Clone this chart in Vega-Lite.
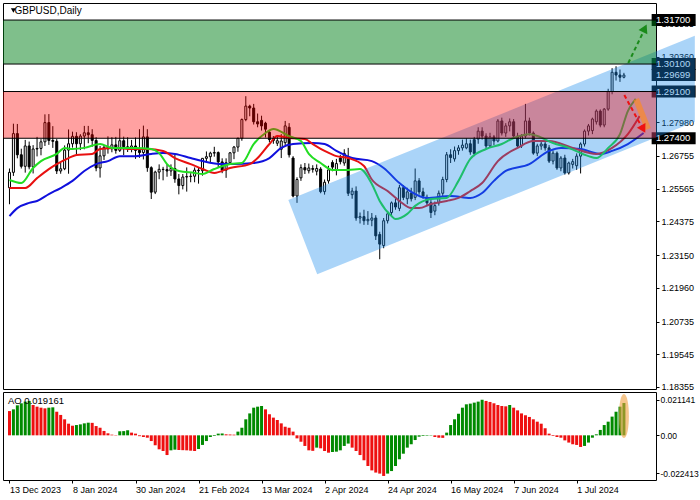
{
  "$schema": "https://vega.github.io/schema/vega-lite/v6.json",
  "padding": {"left": 2, "top": 2, "right": 0, "bottom": 0},
  "spacing": 3,
  "bounds": "flush",
  "background": "white",
  "config": {
    "view": {"stroke": "black", "strokeWidth": 1},
    "axis": {"labelFont": "Liberation Sans", "labelFontSize": 9, "labelColor": "black", "tickColor": "black", "tickSize": 3, "domain": false, "grid": false, "labelPadding": 2}
  },
  "datasets": {
    "ohlc": [
      {"t":0,"o":1.2560,"h":1.2630,"l":1.2500,"c":1.2616},
      {"t":1,"o":1.2616,"h":1.2793,"l":1.2603,"c":1.2757},
      {"t":2,"o":1.2757,"h":1.2792,"l":1.2667,"c":1.2680},
      {"t":3,"o":1.2680,"h":1.2702,"l":1.2630,"c":1.2638},
      {"t":4,"o":1.2638,"h":1.2734,"l":1.2615,"c":1.2712},
      {"t":5,"o":1.2712,"h":1.2728,"l":1.2627,"c":1.2636},
      {"t":6,"o":1.2636,"h":1.2715,"l":1.2612,"c":1.2701},
      {"t":7,"o":1.2701,"h":1.2745,"l":1.2674,"c":1.2703},
      {"t":8,"o":1.2703,"h":1.2737,"l":1.2678,"c":1.2727},
      {"t":9,"o":1.2727,"h":1.2827,"l":1.2712,"c":1.2797},
      {"t":10,"o":1.2797,"h":1.2828,"l":1.2716,"c":1.2732},
      {"t":11,"o":1.2732,"h":1.2784,"l":1.2705,"c":1.2729},
      {"t":12,"o":1.2729,"h":1.2737,"l":1.2610,"c":1.2621},
      {"t":13,"o":1.2621,"h":1.2652,"l":1.2611,"c":1.2629},
      {"t":14,"o":1.2629,"h":1.2714,"l":1.2624,"c":1.2697},
      {"t":15,"o":1.2697,"h":1.2772,"l":1.2611,"c":1.2720},
      {"t":16,"o":1.2720,"h":1.2764,"l":1.2706,"c":1.2747},
      {"t":17,"o":1.2747,"h":1.2762,"l":1.2676,"c":1.2720},
      {"t":18,"o":1.2720,"h":1.2755,"l":1.2697,"c":1.2748},
      {"t":19,"o":1.2748,"h":1.2785,"l":1.2700,"c":1.2760},
      {"t":20,"o":1.2760,"h":1.2785,"l":1.2722,"c":1.2753},
      {"t":21,"o":1.2753,"h":1.2773,"l":1.2709,"c":1.2732},
      {"t":22,"o":1.2732,"h":1.2744,"l":1.2620,"c":1.2632},
      {"t":23,"o":1.2632,"h":1.2712,"l":1.2597,"c":1.2676},
      {"t":24,"o":1.2676,"h":1.2715,"l":1.2661,"c":1.2707},
      {"t":25,"o":1.2707,"h":1.2747,"l":1.2684,"c":1.2702},
      {"t":26,"o":1.2702,"h":1.2744,"l":1.2689,"c":1.2716},
      {"t":27,"o":1.2716,"h":1.2745,"l":1.2684,"c":1.2696},
      {"t":28,"o":1.2696,"h":1.2775,"l":1.2690,"c":1.2731},
      {"t":29,"o":1.2731,"h":1.2746,"l":1.2679,"c":1.2709},
      {"t":30,"o":1.2709,"h":1.2744,"l":1.2690,"c":1.2704},
      {"t":31,"o":1.2704,"h":1.2734,"l":1.2689,"c":1.2712},
      {"t":32,"o":1.2712,"h":1.2743,"l":1.2665,"c":1.2696},
      {"t":33,"o":1.2696,"h":1.2773,"l":1.2669,"c":1.2688},
      {"t":34,"o":1.2688,"h":1.2786,"l":1.2663,"c":1.2745},
      {"t":35,"o":1.2745,"h":1.2773,"l":1.2618,"c":1.2633},
      {"t":36,"o":1.2633,"h":1.2638,"l":1.2519,"c":1.2544},
      {"t":37,"o":1.2544,"h":1.2622,"l":1.2537,"c":1.2617},
      {"t":38,"o":1.2617,"h":1.2645,"l":1.2591,"c":1.2627},
      {"t":39,"o":1.2627,"h":1.2636,"l":1.2587,"c":1.2626},
      {"t":40,"o":1.2626,"h":1.2646,"l":1.2600,"c":1.2621},
      {"t":41,"o":1.2621,"h":1.2645,"l":1.2603,"c":1.2630},
      {"t":42,"o":1.2630,"h":1.2680,"l":1.2578,"c":1.2592},
      {"t":43,"o":1.2592,"h":1.2610,"l":1.2536,"c":1.2568},
      {"t":44,"o":1.2568,"h":1.2610,"l":1.2554,"c":1.2599},
      {"t":45,"o":1.2599,"h":1.2634,"l":1.2546,"c":1.2601},
      {"t":46,"o":1.2601,"h":1.2613,"l":1.2580,"c":1.2602},
      {"t":47,"o":1.2602,"h":1.2634,"l":1.2580,"c":1.2624},
      {"t":48,"o":1.2624,"h":1.2635,"l":1.2575,"c":1.2622},
      {"t":49,"o":1.2622,"h":1.2668,"l":1.2604,"c":1.2667},
      {"t":50,"o":1.2667,"h":1.2692,"l":1.2652,"c":1.2673},
      {"t":51,"o":1.2673,"h":1.2691,"l":1.2650,"c":1.2686},
      {"t":52,"o":1.2686,"h":1.2709,"l":1.2673,"c":1.2688},
      {"t":53,"o":1.2688,"h":1.2692,"l":1.2633,"c":1.2654},
      {"t":54,"o":1.2654,"h":1.2667,"l":1.2613,"c":1.2624},
      {"t":55,"o":1.2624,"h":1.2667,"l":1.2596,"c":1.2651},
      {"t":56,"o":1.2651,"h":1.2690,"l":1.2646,"c":1.2687},
      {"t":57,"o":1.2687,"h":1.2712,"l":1.2664,"c":1.2708},
      {"t":58,"o":1.2708,"h":1.2742,"l":1.2691,"c":1.2740},
      {"t":59,"o":1.2740,"h":1.2812,"l":1.2731,"c":1.2808},
      {"t":60,"o":1.2808,"h":1.2893,"l":1.2802,"c":1.2857},
      {"t":61,"o":1.2857,"h":1.2862,"l":1.2820,"c":1.2850},
      {"t":62,"o":1.2850,"h":1.2865,"l":1.2790,"c":1.2800},
      {"t":63,"o":1.2800,"h":1.2830,"l":1.2780,"c":1.2792},
      {"t":64,"o":1.2805,"h":1.2822,"l":1.2768,"c":1.2785},
      {"t":65,"o":1.2795,"h":1.2800,"l":1.2743,"c":1.2773},
      {"t":66,"o":1.2762,"h":1.2768,"l":1.2725,"c":1.2735},
      {"t":67,"o":1.2738,"h":1.2748,"l":1.2720,"c":1.2732},
      {"t":68,"o":1.2722,"h":1.2745,"l":1.2712,"c":1.2731},
      {"t":69,"o":1.2700,"h":1.2755,"l":1.2668,"c":1.2730},
      {"t":70,"o":1.2724,"h":1.2803,"l":1.2715,"c":1.2785},
      {"t":71,"o":1.2780,"h":1.2795,"l":1.2670,"c":1.2680},
      {"t":72,"o":1.2668,"h":1.2675,"l":1.2525,"c":1.2530},
      {"t":73,"o":1.2530,"h":1.2598,"l":1.2505,"c":1.2590},
      {"t":74,"o":1.2596,"h":1.2645,"l":1.2585,"c":1.2633},
      {"t":75,"o":1.2633,"h":1.2650,"l":1.2610,"c":1.2625},
      {"t":76,"o":1.2622,"h":1.2648,"l":1.2612,"c":1.2632},
      {"t":77,"o":1.2630,"h":1.2642,"l":1.2615,"c":1.2627},
      {"t":78,"o":1.2620,"h":1.2645,"l":1.2605,"c":1.2630},
      {"t":79,"o":1.2628,"h":1.2635,"l":1.2540,"c":1.2546},
      {"t":80,"o":1.2546,"h":1.2590,"l":1.2535,"c":1.2580},
      {"t":81,"o":1.2585,"h":1.2640,"l":1.2575,"c":1.2625},
      {"t":82,"o":1.2652,"h":1.2660,"l":1.2620,"c":1.2635},
      {"t":83,"o":1.2625,"h":1.2665,"l":1.2605,"c":1.2648},
      {"t":84,"o":1.2668,"h":1.2680,"l":1.2645,"c":1.2655},
      {"t":85,"o":1.2650,"h":1.2700,"l":1.2640,"c":1.2685},
      {"t":86,"o":1.2665,"h":1.2705,"l":1.2530,"c":1.2540},
      {"t":87,"o":1.2535,"h":1.2560,"l":1.2520,"c":1.2548},
      {"t":88,"o":1.2548,"h":1.2565,"l":1.2440,"c":1.2450},
      {"t":89,"o":1.2450,"h":1.2470,"l":1.2430,"c":1.2455},
      {"t":90,"o":1.2455,"h":1.2480,"l":1.2425,"c":1.2440},
      {"t":91,"o":1.2440,"h":1.2475,"l":1.2425,"c":1.2445},
      {"t":92,"o":1.2442,"h":1.2468,"l":1.2420,"c":1.2450},
      {"t":93,"o":1.2450,"h":1.2460,"l":1.2370,"c":1.2385},
      {"t":94,"o":1.2390,"h":1.2400,"l":1.2300,"c":1.2355},
      {"t":95,"o":1.2350,"h":1.2450,"l":1.2340,"c":1.2440},
      {"t":96,"o":1.2440,"h":1.2475,"l":1.2430,"c":1.2465},
      {"t":97,"o":1.2470,"h":1.2510,"l":1.2455,"c":1.2505},
      {"t":98,"o":1.2505,"h":1.2520,"l":1.2480,"c":1.2490},
      {"t":99,"o":1.2485,"h":1.2570,"l":1.2475,"c":1.2560},
      {"t":100,"o":1.2560,"h":1.2570,"l":1.2515,"c":1.2525},
      {"t":101,"o":1.2520,"h":1.2560,"l":1.2500,"c":1.2545},
      {"t":102,"o":1.2540,"h":1.2560,"l":1.2510,"c":1.2520},
      {"t":103,"o":1.2525,"h":1.2630,"l":1.2515,"c":1.2585},
      {"t":104,"o":1.2585,"h":1.2595,"l":1.2535,"c":1.2545},
      {"t":105,"o":1.2545,"h":1.2560,"l":1.2520,"c":1.2530},
      {"t":106,"o":1.2525,"h":1.2535,"l":1.2495,"c":1.2505},
      {"t":107,"o":1.2505,"h":1.2515,"l":1.2450,"c":1.2470},
      {"t":108,"o":1.2475,"h":1.2510,"l":1.2460,"c":1.2495},
      {"t":109,"o":1.2505,"h":1.2550,"l":1.2495,"c":1.2540},
      {"t":110,"o":1.2540,"h":1.2600,"l":1.2530,"c":1.2590},
      {"t":111,"o":1.2590,"h":1.2690,"l":1.2580,"c":1.2680},
      {"t":112,"o":1.2680,"h":1.2700,"l":1.2650,"c":1.2670},
      {"t":113,"o":1.2665,"h":1.2710,"l":1.2655,"c":1.2695},
      {"t":114,"o":1.2695,"h":1.2715,"l":1.2680,"c":1.2705},
      {"t":115,"o":1.2705,"h":1.2735,"l":1.2695,"c":1.2715},
      {"t":116,"o":1.2705,"h":1.2740,"l":1.2700,"c":1.2720},
      {"t":117,"o":1.2720,"h":1.2735,"l":1.2680,"c":1.2690},
      {"t":118,"o":1.2735,"h":1.2745,"l":1.2675,"c":1.2685},
      {"t":119,"o":1.2737,"h":1.2780,"l":1.2720,"c":1.2766},
      {"t":120,"o":1.2766,"h":1.2780,"l":1.2735,"c":1.2748},
      {"t":121,"o":1.2748,"h":1.2758,"l":1.2700,"c":1.2712},
      {"t":122,"o":1.2712,"h":1.2760,"l":1.2705,"c":1.2745},
      {"t":123,"o":1.2745,"h":1.2752,"l":1.2715,"c":1.2730},
      {"t":124,"o":1.2730,"h":1.2810,"l":1.2725,"c":1.2803},
      {"t":125,"o":1.2803,"h":1.2815,"l":1.2750,"c":1.2759},
      {"t":126,"o":1.2759,"h":1.2795,"l":1.2745,"c":1.2785},
      {"t":127,"o":1.2785,"h":1.2812,"l":1.2765,"c":1.2800},
      {"t":128,"o":1.2800,"h":1.2810,"l":1.2745,"c":1.2748},
      {"t":129,"o":1.2748,"h":1.2760,"l":1.2705,"c":1.2712},
      {"t":130,"o":1.2712,"h":1.2755,"l":1.2705,"c":1.2748},
      {"t":131,"o":1.2748,"h":1.2865,"l":1.2740,"c":1.2803},
      {"t":132,"o":1.2803,"h":1.2815,"l":1.2750,"c":1.2759},
      {"t":133,"o":1.2759,"h":1.2765,"l":1.2680,"c":1.2686},
      {"t":134,"o":1.2686,"h":1.2720,"l":1.2675,"c":1.2712},
      {"t":135,"o":1.2712,"h":1.2730,"l":1.2698,"c":1.2719},
      {"t":136,"o":1.2719,"h":1.2728,"l":1.2695,"c":1.2705},
      {"t":137,"o":1.2705,"h":1.2715,"l":1.2650,"c":1.2657},
      {"t":138,"o":1.2657,"h":1.2695,"l":1.2645,"c":1.2686},
      {"t":139,"o":1.2686,"h":1.2692,"l":1.2625,"c":1.2632},
      {"t":140,"o":1.2632,"h":1.2675,"l":1.2620,"c":1.2668},
      {"t":141,"o":1.2668,"h":1.2680,"l":1.2608,"c":1.2614},
      {"t":142,"o":1.2614,"h":1.2655,"l":1.2608,"c":1.2650},
      {"t":143,"o":1.2645,"h":1.2665,"l":1.2630,"c":1.2655},
      {"t":144,"o":1.2640,"h":1.2685,"l":1.2625,"c":1.2675},
      {"t":145,"o":1.2675,"h":1.2725,"l":1.2612,"c":1.2719},
      {"t":146,"o":1.2719,"h":1.2772,"l":1.2710,"c":1.2766},
      {"t":147,"o":1.2766,"h":1.2792,"l":1.2750,"c":1.2785},
      {"t":148,"o":1.2768,"h":1.2815,"l":1.2755,"c":1.2810},
      {"t":149,"o":1.2800,"h":1.2845,"l":1.2790,"c":1.2839},
      {"t":150,"o":1.2839,"h":1.2845,"l":1.2780,"c":1.2788},
      {"t":151,"o":1.2788,"h":1.2850,"l":1.2780,"c":1.2846},
      {"t":152,"o":1.2846,"h":1.2920,"l":1.2840,"c":1.2910},
      {"t":153,"o":1.2910,"h":1.2995,"l":1.2900,"c":1.2980},
      {"t":154,"o":1.2980,"h":1.3002,"l":1.2950,"c":1.2970},
      {"t":155,"o":1.2970,"h":1.2990,"l":1.2945,"c":1.2962},
      {"t":156,"o":1.2962,"h":1.2978,"l":1.2958,"c":1.29699}
    ],
    "ma": [
      {"s":"lips","t":0,"v":1.2588},{"s":"lips","t":3,"v":1.2577},{"s":"lips","t":6,"v":1.2632},{"s":"lips","t":8,"v":1.2657},{"s":"lips","t":12,"v":1.2683},{"s":"lips","t":14,"v":1.2705},{"s":"lips","t":16,"v":1.2701},{"s":"lips","t":19,"v":1.2705},{"s":"lips","t":23,"v":1.2719},{"s":"lips","t":26,"v":1.2705},{"s":"lips","t":32,"v":1.2705},{"s":"lips","t":36,"v":1.2701},{"s":"lips","t":38,"v":1.2686},{"s":"lips","t":40,"v":1.2646},{"s":"lips","t":43,"v":1.2621},{"s":"lips","t":47,"v":1.2614},{"s":"lips","t":49,"v":1.2610},{"s":"lips","t":52,"v":1.2628},{"s":"lips","t":56,"v":1.2646},{"s":"lips","t":59,"v":1.2650},{"s":"lips","t":62,"v":1.2719},{"s":"lips","t":65,"v":1.2759},{"s":"lips","t":67,"v":1.2774},{"s":"lips","t":71,"v":1.2748},{"s":"lips","t":74,"v":1.2730},{"s":"lips","t":76,"v":1.2683},{"s":"lips","t":79,"v":1.2650},{"s":"lips","t":82,"v":1.2625},{"s":"lips","t":86,"v":1.2625},{"s":"lips","t":89,"v":1.2628},{"s":"lips","t":92,"v":1.2574},{"s":"lips","t":94,"v":1.2512},{"s":"lips","t":97,"v":1.2457},{"s":"lips","t":98,"v":1.2446},{"s":"lips","t":101,"v":1.2465},{"s":"lips","t":103,"v":1.2494},{"s":"lips","t":107,"v":1.2519},{"s":"lips","t":111,"v":1.2523},{"s":"lips","t":114,"v":1.2585},{"s":"lips","t":117,"v":1.2665},{"s":"lips","t":121,"v":1.2701},{"s":"lips","t":125,"v":1.2719},{"s":"lips","t":128,"v":1.2741},{"s":"lips","t":132,"v":1.2755},{"s":"lips","t":134,"v":1.2748},{"s":"lips","t":138,"v":1.2723},{"s":"lips","t":142,"v":1.2705},{"s":"lips","t":147,"v":1.2675},{"s":"lips","t":149,"v":1.2668},{"s":"lips","t":152,"v":1.2705},{"s":"lips","t":155,"v":1.2755},{"s":"lips","t":157,"v":1.2839},{"s":"lips","t":159,"v":1.2883},
      {"s":"teeth","t":0,"v":1.2559},{"s":"teeth","t":4,"v":1.2559},{"s":"teeth","t":7,"v":1.2595},{"s":"teeth","t":10,"v":1.2628},{"s":"teeth","t":12,"v":1.2646},{"s":"teeth","t":15,"v":1.2668},{"s":"teeth","t":17,"v":1.2679},{"s":"teeth","t":21,"v":1.2683},{"s":"teeth","t":23,"v":1.2701},{"s":"teeth","t":27,"v":1.2705},{"s":"teeth","t":31,"v":1.2701},{"s":"teeth","t":35,"v":1.2701},{"s":"teeth","t":39,"v":1.2694},{"s":"teeth","t":42,"v":1.2668},{"s":"teeth","t":46,"v":1.2646},{"s":"teeth","t":49,"v":1.2628},{"s":"teeth","t":52,"v":1.2614},{"s":"teeth","t":56,"v":1.2632},{"s":"teeth","t":61,"v":1.2646},{"s":"teeth","t":63,"v":1.2668},{"s":"teeth","t":66,"v":1.2719},{"s":"teeth","t":68,"v":1.2748},{"s":"teeth","t":71,"v":1.2741},{"s":"teeth","t":75,"v":1.2737},{"s":"teeth","t":77,"v":1.2719},{"s":"teeth","t":80,"v":1.2694},{"s":"teeth","t":83,"v":1.2675},{"s":"teeth","t":86,"v":1.2668},{"s":"teeth","t":90,"v":1.2639},{"s":"teeth","t":92,"v":1.2590},{"s":"teeth","t":96,"v":1.2548},{"s":"teeth","t":99,"v":1.2512},{"s":"teeth","t":102,"v":1.2486},{"s":"teeth","t":104,"v":1.2486},{"s":"teeth","t":107,"v":1.2501},{"s":"teeth","t":111,"v":1.2512},{"s":"teeth","t":114,"v":1.2523},{"s":"teeth","t":117,"v":1.2548},{"s":"teeth","t":120,"v":1.2577},{"s":"teeth","t":124,"v":1.2657},{"s":"teeth","t":129,"v":1.2705},{"s":"teeth","t":133,"v":1.2730},{"s":"teeth","t":137,"v":1.2730},{"s":"teeth","t":143,"v":1.2705},{"s":"teeth","t":149,"v":1.2683},{"s":"teeth","t":153,"v":1.2705},{"s":"teeth","t":157,"v":1.2755},{"s":"teeth","t":160,"v":1.2821},
      {"s":"jaw","t":0,"v":1.2457},{"s":"jaw","t":2,"v":1.2486},{"s":"jaw","t":5,"v":1.2505},{"s":"jaw","t":7,"v":1.2512},{"s":"jaw","t":10,"v":1.2537},{"s":"jaw","t":13,"v":1.2559},{"s":"jaw","t":16,"v":1.2585},{"s":"jaw","t":19,"v":1.2621},{"s":"jaw","t":22,"v":1.2646},{"s":"jaw","t":25,"v":1.2657},{"s":"jaw","t":28,"v":1.2675},{"s":"jaw","t":32,"v":1.2675},{"s":"jaw","t":36,"v":1.2683},{"s":"jaw","t":39,"v":1.2686},{"s":"jaw","t":42,"v":1.2683},{"s":"jaw","t":46,"v":1.2668},{"s":"jaw","t":49,"v":1.2657},{"s":"jaw","t":54,"v":1.2646},{"s":"jaw","t":57,"v":1.2646},{"s":"jaw","t":62,"v":1.2650},{"s":"jaw","t":66,"v":1.2668},{"s":"jaw","t":69,"v":1.2705},{"s":"jaw","t":72,"v":1.2719},{"s":"jaw","t":77,"v":1.2723},{"s":"jaw","t":80,"v":1.2719},{"s":"jaw","t":83,"v":1.2694},{"s":"jaw","t":87,"v":1.2668},{"s":"jaw","t":92,"v":1.2657},{"s":"jaw","t":95,"v":1.2632},{"s":"jaw","t":99,"v":1.2577},{"s":"jaw","t":102,"v":1.2545},{"s":"jaw","t":106,"v":1.2523},{"s":"jaw","t":112,"v":1.2530},{"s":"jaw","t":117,"v":1.2523},{"s":"jaw","t":120,"v":1.2541},{"s":"jaw","t":123,"v":1.2585},{"s":"jaw","t":126,"v":1.2621},{"s":"jaw","t":132,"v":1.2646},{"s":"jaw","t":137,"v":1.2694},{"s":"jaw","t":140,"v":1.2705},{"s":"jaw","t":145,"v":1.2701},{"s":"jaw","t":150,"v":1.2683},{"s":"jaw","t":153,"v":1.2694},{"s":"jaw","t":157,"v":1.2719},{"s":"jaw","t":161,"v":1.2759}
    ],
    "ao": [
      {"t":0,"v":0.0144,"d":"d"},{"t":1,"v":0.0154,"d":"u"},{"t":2,"v":0.0178,"d":"u"},{"t":3,"v":0.0190,"d":"u"},{"t":4,"v":0.0200,"d":"u"},{"t":5,"v":0.0204,"d":"u"},{"t":6,"v":0.0180,"d":"d"},{"t":7,"v":0.0170,"d":"d"},{"t":8,"v":0.0164,"d":"d"},{"t":9,"v":0.0160,"d":"d"},
      {"t":10,"v":0.0164,"d":"u"},{"t":11,"v":0.0166,"d":"u"},{"t":12,"v":0.0140,"d":"d"},{"t":13,"v":0.0121,"d":"d"},{"t":14,"v":0.0095,"d":"d"},{"t":15,"v":0.0069,"d":"d"},{"t":16,"v":0.0057,"d":"d"},{"t":17,"v":0.0061,"d":"u"},{"t":18,"v":0.0065,"d":"u"},{"t":19,"v":0.0071,"d":"u"},
      {"t":20,"v":0.0075,"d":"u"},{"t":21,"v":0.0074,"d":"d"},{"t":22,"v":0.0055,"d":"d"},{"t":23,"v":0.0045,"d":"d"},{"t":24,"v":0.0026,"d":"d"},{"t":25,"v":0.0012,"d":"d"},{"t":26,"v":0.0004,"d":"d"},{"t":27,"v":-0.0002,"d":"d"},{"t":28,"v":0.0024,"d":"u"},{"t":29,"v":0.0025,"d":"u"},
      {"t":30,"v":0.0030,"d":"u"},{"t":31,"v":0.0016,"d":"d"},{"t":32,"v":0.0010,"d":"d"},{"t":33,"v":-0.0005,"d":"d"},{"t":34,"v":-0.0010,"d":"d"},{"t":35,"v":-0.0014,"d":"d"},{"t":36,"v":-0.0034,"d":"d"},{"t":37,"v":-0.0059,"d":"d"},{"t":38,"v":-0.0083,"d":"d"},{"t":39,"v":-0.0093,"d":"d"},
      {"t":40,"v":-0.0117,"d":"d"},{"t":41,"v":-0.0089,"d":"u"},{"t":42,"v":-0.0085,"d":"u"},{"t":43,"v":-0.0087,"d":"d"},{"t":44,"v":-0.0088,"d":"d"},{"t":45,"v":-0.0089,"d":"d"},{"t":46,"v":-0.0091,"d":"d"},{"t":47,"v":-0.0093,"d":"d"},{"t":48,"v":-0.0081,"d":"u"},{"t":49,"v":-0.0057,"d":"u"},
      {"t":50,"v":-0.0034,"d":"u"},{"t":51,"v":-0.0010,"d":"u"},{"t":52,"v":-0.0004,"d":"u"},{"t":53,"v":0.0010,"d":"u"},{"t":54,"v":0.0011,"d":"u"},{"t":55,"v":0.0006,"d":"d"},{"t":56,"v":0.0005,"d":"d"},{"t":57,"v":0.0004,"d":"d"},{"t":58,"v":0.0022,"d":"u"},{"t":59,"v":0.0045,"d":"u"},
      {"t":60,"v":0.0095,"d":"u"},{"t":61,"v":0.0130,"d":"u"},{"t":62,"v":0.0164,"d":"u"},{"t":63,"v":0.0170,"d":"u"},{"t":64,"v":0.0174,"d":"u"},{"t":65,"v":0.0154,"d":"d"},{"t":66,"v":0.0125,"d":"d"},{"t":67,"v":0.0105,"d":"d"},{"t":68,"v":0.0091,"d":"d"},{"t":69,"v":0.0071,"d":"d"},
      {"t":70,"v":0.0051,"d":"d"},{"t":71,"v":0.0045,"d":"d"},{"t":72,"v":0.0022,"d":"d"},{"t":73,"v":-0.0018,"d":"d"},{"t":74,"v":-0.0038,"d":"d"},{"t":75,"v":-0.0063,"d":"d"},{"t":76,"v":-0.0089,"d":"d"},{"t":77,"v":-0.0092,"d":"d"},{"t":78,"v":-0.0073,"d":"u"},{"t":79,"v":-0.0077,"d":"d"},
      {"t":80,"v":-0.0093,"d":"d"},{"t":81,"v":-0.0103,"d":"d"},{"t":82,"v":-0.0099,"d":"u"},{"t":83,"v":-0.0097,"d":"u"},{"t":84,"v":-0.0089,"d":"u"},{"t":85,"v":-0.0063,"d":"u"},{"t":86,"v":-0.0049,"d":"u"},{"t":87,"v":-0.0073,"d":"d"},{"t":88,"v":-0.0093,"d":"d"},{"t":89,"v":-0.0117,"d":"d"},
      {"t":90,"v":-0.0148,"d":"d"},{"t":91,"v":-0.0182,"d":"d"},{"t":92,"v":-0.0208,"d":"d"},{"t":93,"v":-0.0221,"d":"d"},{"t":94,"v":-0.0227,"d":"d"},{"t":95,"v":-0.0241,"d":"d"},{"t":96,"v":-0.0227,"d":"u"},{"t":97,"v":-0.0212,"d":"u"},{"t":98,"v":-0.0182,"d":"u"},{"t":99,"v":-0.0142,"d":"u"},
      {"t":100,"v":-0.0109,"d":"u"},{"t":101,"v":-0.0073,"d":"u"},{"t":102,"v":-0.0053,"d":"u"},{"t":103,"v":-0.0028,"d":"u"},{"t":104,"v":-0.0008,"d":"u"},{"t":105,"v":-0.0004,"d":"u"},{"t":106,"v":-0.0003,"d":"u"},{"t":107,"v":-0.0002,"d":"u"},{"t":108,"v":-0.0010,"d":"d"},{"t":109,"v":-0.0014,"d":"d"},
      {"t":110,"v":-0.0015,"d":"d"},{"t":111,"v":0.0016,"d":"u"},{"t":112,"v":0.0061,"d":"u"},{"t":113,"v":0.0095,"d":"u"},{"t":114,"v":0.0128,"d":"u"},{"t":115,"v":0.0164,"d":"u"},{"t":116,"v":0.0184,"d":"u"},{"t":117,"v":0.0188,"d":"u"},{"t":118,"v":0.0194,"d":"u"},{"t":119,"v":0.0200,"d":"u"},
      {"t":120,"v":0.0211,"d":"u"},{"t":121,"v":0.0204,"d":"d"},{"t":122,"v":0.0198,"d":"d"},{"t":123,"v":0.0190,"d":"d"},{"t":124,"v":0.0180,"d":"d"},{"t":125,"v":0.0174,"d":"d"},{"t":126,"v":0.0172,"d":"d"},{"t":127,"v":0.0180,"d":"u"},{"t":128,"v":0.0164,"d":"d"},{"t":129,"v":0.0148,"d":"d"},
      {"t":130,"v":0.0130,"d":"d"},{"t":131,"v":0.0119,"d":"d"},{"t":132,"v":0.0109,"d":"d"},{"t":133,"v":0.0095,"d":"d"},{"t":134,"v":0.0081,"d":"d"},{"t":135,"v":0.0069,"d":"d"},{"t":136,"v":0.0042,"d":"d"},{"t":137,"v":0.0010,"d":"d"},{"t":138,"v":-0.0004,"d":"d"},{"t":139,"v":-0.0010,"d":"d"},
      {"t":140,"v":-0.0014,"d":"d"},{"t":141,"v":-0.0030,"d":"d"},{"t":142,"v":-0.0043,"d":"d"},{"t":143,"v":-0.0053,"d":"d"},{"t":144,"v":-0.0057,"d":"d"},{"t":145,"v":-0.0069,"d":"d"},{"t":146,"v":-0.0063,"d":"u"},{"t":147,"v":-0.0043,"d":"u"},{"t":148,"v":-0.0014,"d":"u"},{"t":149,"v":0.0006,"d":"u"},
      {"t":150,"v":0.0032,"d":"u"},{"t":151,"v":0.0061,"d":"u"},{"t":152,"v":0.0081,"d":"u"},{"t":153,"v":0.0111,"d":"u"},{"t":154,"v":0.0140,"d":"u"},{"t":155,"v":0.0170,"d":"u"},{"t":156,"v":0.019161,"d":"u"}
    ],
    "zones": [{"z":"buy","lo":1.301,"hi":1.317},{"z":"sell","lo":1.274,"hi":1.291}],
    "zlines": [{"p":1.317},{"p":1.301},{"p":1.291},{"p":1.274}],
    "channel": [{"t":70.8,"hi":1.25154,"lo":1.25154},{"t":78.125,"hi":1.25578,"lo":1.22453},{"t":174.0,"hi":1.31129,"lo":1.28004}],
    "boxes": [{"p":1.317,"lbl":"1.31700"},{"p":1.301,"lbl":"1.30100"},{"p":1.29699,"lbl":"1.29699"},{"p":1.291,"lbl":"1.29100"},{"p":1.274,"lbl":"1.27400"}],
    "arrows": [
      {"a":"up","t":157.1,"p":1.30136},{"a":"up","t":160.9,"p":1.31263},
      {"a":"down","t":156.1,"p":1.28972},{"a":"down","t":160.4,"p":1.27845},
      {"a":"alt","t":159.1,"p":1.28827},{"a":"alt","t":162.1,"p":1.27736}
    ],
    "heads": [{"a":"up","t":161.3,"p":1.31400},{"a":"down","t":160.9,"p":1.27736}]
  },
  "resolve": {"scale": {"x": "independent", "y": "independent", "color": "independent"}},
  "vconcat": [
    {
      "width": 653,
      "height": 386,
      "title": {"text": "GBPUSD,Daily", "anchor": "start", "offset": -13, "dx": 12, "font": "Liberation Sans", "fontSize": 10, "fontWeight": "normal", "color": "black"},
      "layer": [
        {
          "data": {"name": "ohlc"},
          "mark": {"type": "rule", "color": "black", "strokeWidth": 1},
          "encoding": {
            "x": {"field": "t", "type": "quantitative", "scale": {"domain": [-0.375, 162.875], "nice": false, "zero": false}, "axis": null},
            "y": {"field": "l", "type": "quantitative", "scale": {"domain": [1.1828, 1.3232], "nice": false, "zero": false},
                  "axis": {"orient": "right", "title": null, "values": [1.31585, 1.3036, 1.2798, 1.26755, 1.25565, 1.24375, 1.2315, 1.2196, 1.20735, 1.19545, 1.18355], "format": ".5f", "zindex": 0}},
            "y2": {"field": "h"}
          }
        },
        {
          "data": {"name": "ohlc"},
          "mark": {"type": "bar", "size": 2, "strokeWidth": 1, "stroke": "black"},
          "encoding": {
            "x": {"field": "t", "type": "quantitative", "axis": null},
            "y": {"field": "o", "type": "quantitative", "axis": {"orient": "right", "title": null, "values": [1.31585, 1.3036, 1.2798, 1.26755, 1.25565, 1.24375, 1.2315, 1.2196, 1.20735, 1.19545, 1.18355], "format": ".5f", "zindex": 0}},
            "y2": {"field": "c"},
            "fill": {"condition": {"test": "datum.c >= datum.o", "value": "white"}, "value": "black"}
          }
        },
        {
          "data": {"name": "ma"},
          "transform": [{"filter": "datum.s == 'jaw'"}],
          "mark": {"type": "line", "strokeWidth": 2, "interpolate": "monotone", "color": "#1010dd"},
          "encoding": {
            "x": {"field": "t", "type": "quantitative", "axis": null},
            "y": {"field": "v", "type": "quantitative", "axis": {"orient": "right", "title": null, "values": [1.31585, 1.3036, 1.2798, 1.26755, 1.25565, 1.24375, 1.2315, 1.2196, 1.20735, 1.19545, 1.18355], "format": ".5f", "zindex": 0}}
          }
        },
        {
          "data": {"name": "ma"},
          "transform": [{"filter": "datum.s == 'teeth'"}],
          "mark": {"type": "line", "strokeWidth": 2, "interpolate": "monotone", "color": "#e81010"},
          "encoding": {
            "x": {"field": "t", "type": "quantitative", "axis": null},
            "y": {"field": "v", "type": "quantitative", "axis": {"orient": "right", "title": null, "values": [1.31585, 1.3036, 1.2798, 1.26755, 1.25565, 1.24375, 1.2315, 1.2196, 1.20735, 1.19545, 1.18355], "format": ".5f", "zindex": 0}}
          }
        },
        {
          "data": {"name": "ma"},
          "transform": [{"filter": "datum.s == 'lips'"}],
          "mark": {"type": "line", "strokeWidth": 2, "interpolate": "monotone", "color": "#22dd22"},
          "encoding": {
            "x": {"field": "t", "type": "quantitative", "axis": null},
            "y": {"field": "v", "type": "quantitative", "axis": {"orient": "right", "title": null, "values": [1.31585, 1.3036, 1.2798, 1.26755, 1.25565, 1.24375, 1.2315, 1.2196, 1.20735, 1.19545, 1.18355], "format": ".5f", "zindex": 0}}
          }
        },
        {
          "data": {"name": "boxes"},
          "mark": {"type": "point", "filled": true, "opacity": 1, "color": "black", "size": 1936, "shape": "M-1,-0.273L1,-0.273L1,0.273L-1,0.273Z"},
          "encoding": {
            "x": {"datum": 168.625, "type": "quantitative", "axis": null},
            "y": {"field": "p", "type": "quantitative", "axis": {"orient": "right", "title": null, "values": [1.31585, 1.3036, 1.2798, 1.26755, 1.25565, 1.24375, 1.2315, 1.2196, 1.20735, 1.19545, 1.18355], "format": ".5f", "zindex": 0}}
          }
        },
        {
          "data": {"name": "boxes"},
          "mark": {"type": "text", "align": "left", "baseline": "middle", "color": "white", "font": "Liberation Sans", "fontSize": 9.5},
          "encoding": {
            "x": {"datum": 164.125, "type": "quantitative", "axis": null},
            "y": {"field": "p", "type": "quantitative", "axis": {"orient": "right", "title": null, "values": [1.31585, 1.3036, 1.2798, 1.26755, 1.25565, 1.24375, 1.2315, 1.2196, 1.20735, 1.19545, 1.18355], "format": ".5f", "zindex": 0}},
            "text": {"field": "lbl"}
          }
        },
        {
          "data": {"name": "channel"},
          "mark": {"type": "area", "color": "#198bec", "opacity": 0.37},
          "encoding": {
            "x": {"field": "t", "type": "quantitative", "axis": null},
            "y": {"field": "hi", "type": "quantitative", "axis": {"orient": "right", "title": null, "values": [1.31585, 1.3036, 1.2798, 1.26755, 1.25565, 1.24375, 1.2315, 1.2196, 1.20735, 1.19545, 1.18355], "format": ".5f", "zindex": 0}},
            "y2": {"field": "lo"}
          }
        },
        {
          "data": {"name": "zones"},
          "transform": [{"filter": "datum.z == 'sell'"}],
          "mark": {"type": "rect", "color": "#ff0000", "opacity": 0.37},
          "encoding": {
            "y": {"field": "lo", "type": "quantitative", "axis": {"orient": "right", "title": null, "values": [1.31585, 1.3036, 1.2798, 1.26755, 1.25565, 1.24375, 1.2315, 1.2196, 1.20735, 1.19545, 1.18355], "format": ".5f", "zindex": 0}},
            "y2": {"field": "hi"}
          }
        },
        {
          "data": {"name": "zones"},
          "transform": [{"filter": "datum.z == 'buy'"}],
          "mark": {"type": "rect", "color": "#008018", "opacity": 0.5},
          "encoding": {
            "y": {"field": "lo", "type": "quantitative", "axis": {"orient": "right", "title": null, "values": [1.31585, 1.3036, 1.2798, 1.26755, 1.25565, 1.24375, 1.2315, 1.2196, 1.20735, 1.19545, 1.18355], "format": ".5f", "zindex": 0}},
            "y2": {"field": "hi"}
          }
        },
        {
          "data": {"name": "zlines"},
          "mark": {"type": "rule", "color": "black", "strokeWidth": 1},
          "encoding": {"y": {"field": "p", "type": "quantitative", "axis": {"orient": "right", "title": null, "values": [1.31585, 1.3036, 1.2798, 1.26755, 1.25565, 1.24375, 1.2315, 1.2196, 1.20735, 1.19545, 1.18355], "format": ".5f", "zindex": 0}}}
        },
        {
          "data": {"name": "arrows"},
          "transform": [{"filter": "datum.a == 'alt'"}],
          "mark": {"type": "line", "strokeWidth": 6, "color": "#ff8a1e", "opacity": 0.65, "strokeCap": "butt"},
          "encoding": {
            "x": {"field": "t", "type": "quantitative", "axis": null},
            "y": {"field": "p", "type": "quantitative", "axis": {"orient": "right", "title": null, "values": [1.31585, 1.3036, 1.2798, 1.26755, 1.25565, 1.24375, 1.2315, 1.2196, 1.20735, 1.19545, 1.18355], "format": ".5f", "zindex": 0}}
          }
        },
        {
          "data": {"name": "arrows"},
          "transform": [{"filter": "datum.a == 'up'"}],
          "mark": {"type": "line", "strokeWidth": 2, "strokeDash": [4, 3], "color": "#1a8a1a"},
          "encoding": {
            "x": {"field": "t", "type": "quantitative", "axis": null},
            "y": {"field": "p", "type": "quantitative", "axis": {"orient": "right", "title": null, "values": [1.31585, 1.3036, 1.2798, 1.26755, 1.25565, 1.24375, 1.2315, 1.2196, 1.20735, 1.19545, 1.18355], "format": ".5f", "zindex": 0}}
          }
        },
        {
          "data": {"name": "arrows"},
          "transform": [{"filter": "datum.a == 'down'"}],
          "mark": {"type": "line", "strokeWidth": 2, "strokeDash": [4, 3], "color": "#ee1111"},
          "encoding": {
            "x": {"field": "t", "type": "quantitative", "axis": null},
            "y": {"field": "p", "type": "quantitative", "axis": {"orient": "right", "title": null, "values": [1.31585, 1.3036, 1.2798, 1.26755, 1.25565, 1.24375, 1.2315, 1.2196, 1.20735, 1.19545, 1.18355], "format": ".5f", "zindex": 0}}
          }
        },
        {
          "data": {"name": "heads"},
          "transform": [{"filter": "datum.a == 'up'"}],
          "mark": {"type": "point", "shape": "triangle-up", "filled": true, "opacity": 1, "color": "#1a8a1a", "size": 95, "angle": 26},
          "encoding": {
            "x": {"field": "t", "type": "quantitative", "axis": null},
            "y": {"field": "p", "type": "quantitative", "axis": {"orient": "right", "title": null, "values": [1.31585, 1.3036, 1.2798, 1.26755, 1.25565, 1.24375, 1.2315, 1.2196, 1.20735, 1.19545, 1.18355], "format": ".5f", "zindex": 0}}
          }
        },
        {
          "data": {"name": "heads"},
          "transform": [{"filter": "datum.a == 'down'"}],
          "mark": {"type": "point", "shape": "triangle-up", "filled": true, "opacity": 1, "color": "#ee1111", "size": 95, "angle": 151},
          "encoding": {
            "x": {"field": "t", "type": "quantitative", "axis": null},
            "y": {"field": "p", "type": "quantitative", "axis": {"orient": "right", "title": null, "values": [1.31585, 1.3036, 1.2798, 1.26755, 1.25565, 1.24375, 1.2315, 1.2196, 1.20735, 1.19545, 1.18355], "format": ".5f", "zindex": 0}}
          }
        },
        {
          "data": {"values": [{"k": "menu"}]},
          "mark": {"type": "point", "shape": "triangle-down", "filled": true, "opacity": 1, "color": "black", "size": 26},
          "encoding": {
            "x": {"datum": 1.0, "type": "quantitative", "axis": null},
            "y": {"datum": 1.3205, "type": "quantitative", "axis": {"orient": "right", "title": null, "values": [1.31585, 1.3036, 1.2798, 1.26755, 1.25565, 1.24375, 1.2315, 1.2196, 1.20735, 1.19545, 1.18355], "format": ".5f", "zindex": 0}}
          }
        }
      ]
    },
    {
      "width": 653,
      "height": 88,
      "title": {"text": "AO 0.019161", "anchor": "start", "offset": -13, "dx": 5, "font": "Liberation Sans", "fontSize": 9.5, "fontWeight": "normal", "color": "black"},
      "layer": [
        {
          "data": {"name": "ao"},
          "mark": {"type": "bar", "size": 3},
          "encoding": {
            "x": {"field": "t", "type": "quantitative", "scale": {"domain": [-0.375, 162.875], "nice": false, "zero": false},
                  "axis": {"orient": "bottom", "title": null, "values": [0, 16, 32, 48, 64, 80, 96, 112, 128, 144], "labelAlign": "left", "labelBaseline": "top", "labelPadding": 2, "labelFlush": false, "labelOverlap": false,
                           "labelExpr": "datum.value == 0 ? '13 Dec 2023' : datum.value == 16 ? '8 Jan 2024' : datum.value == 32 ? '30 Jan 2024' : datum.value == 48 ? '21 Feb 2024' : datum.value == 64 ? '13 Mar 2024' : datum.value == 80 ? '2 Apr 2024' : datum.value == 96 ? '24 Apr 2024' : datum.value == 112 ? '16 May 2024' : datum.value == 128 ? '7 Jun 2024' : '1 Jul 2024'"}},
            "y": {"field": "v", "type": "quantitative", "stack": null, "scale": {"domain": [-0.0265, 0.0257], "nice": false},
                  "axis": {"orient": "right", "title": null, "values": [0.021141, 0, -0.022413], "labelPadding": 1, "labelFontSize": 8.5,
                           "labelExpr": "datum.value > 0.01 ? '0.021141' : datum.value < -0.01 ? '-0.022413' : '0.00'"}},
            "color": {"field": "d", "type": "nominal", "scale": {"domain": ["u", "d"], "range": ["#008a00", "#ee1010"]}, "legend": null}
          }
        },
        {
          "data": {"values": [{"k": "mark"}]},
          "mark": {"type": "point", "filled": true, "color": "#f0a040", "opacity": 0.6, "size": 1936, "shape": "M0,-1C0.3,-1 0.3,1 0,1C-0.3,1 -0.3,-1 0,-1Z"},
          "encoding": {
            "x": {"datum": 156, "type": "quantitative",
                  "axis": {"orient": "bottom", "title": null, "values": [0, 16, 32, 48, 64, 80, 96, 112, 128, 144], "labelAlign": "left", "labelBaseline": "top", "labelPadding": 2, "labelFlush": false, "labelOverlap": false,
                           "labelExpr": "datum.value == 0 ? '13 Dec 2023' : datum.value == 16 ? '8 Jan 2024' : datum.value == 32 ? '30 Jan 2024' : datum.value == 48 ? '21 Feb 2024' : datum.value == 64 ? '13 Mar 2024' : datum.value == 80 ? '2 Apr 2024' : datum.value == 96 ? '24 Apr 2024' : datum.value == 112 ? '16 May 2024' : datum.value == 128 ? '7 Jun 2024' : '1 Jul 2024'"}},
            "y": {"datum": 0.0115, "type": "quantitative",
                  "axis": {"orient": "right", "title": null, "values": [0.021141, 0, -0.022413], "labelPadding": 1, "labelFontSize": 8.5,
                           "labelExpr": "datum.value > 0.01 ? '0.021141' : datum.value < -0.01 ? '-0.022413' : '0.00'"}}
          }
        }
      ]
    }
  ]
}
